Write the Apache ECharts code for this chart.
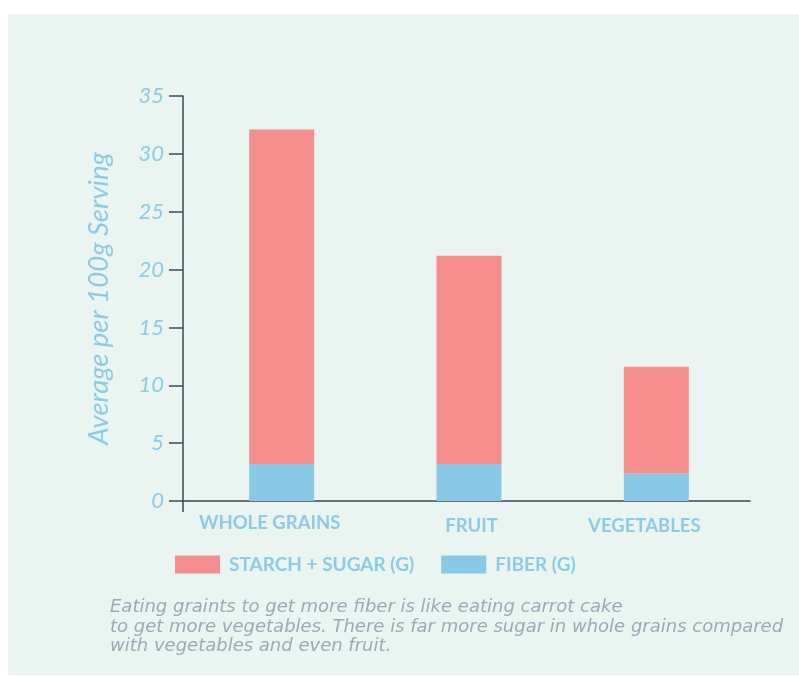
<!DOCTYPE html>
<html>
<head>
<meta charset="utf-8">
<script src="https://cdn.jsdelivr.net/npm/echarts@6/dist/echarts.min.js"></script>
<style>
  html, body { margin: 0; padding: 0; background: #ffffff; }
  #panel { position: absolute; left: 8px; top: 14px; width: 791px; height: 661px; background: #eaf4f0; }
  #chart { position: absolute; left: 0; top: 0; width: 799px; height: 677px; }
</style>
</head>
<body>
<div id="panel"></div>
<div id="chart"></div>
<script>
const categories = ['WHOLE GRAINS', 'FRUIT', 'VEGETABLES'];
const fiber = [3.2, 3.2, 2.4];
const starchSugar = [28.9, 18.0, 9.2];
const seriesNames = ['STARCH + SUGAR (G)', 'FIBER (G)'];
const yTicks = { min: 0, max: 35, interval: 5 };
const yAxisTitle = 'Average per 100g Serving';
const caption = 'Eating graints to get more fiber is like eating carrot cake\n' +
  'to get more vegetables. There is far more sugar in whole grains compared\n' +
  'with vegetables and even fruit.';

const blue = '#89c9e5';
const pink = '#f58e8e';
const labelBlue = '#8acbe8';
const axisColor = '#3d4756';

// label styling: small horizontal nudges of category labels (as in the reference layout)
const labelFont = { color: labelBlue, fontFamily: 'Lato', fontWeight: 'bold', fontSize: 18.5 };
const labelRich = {
  c0: Object.assign({ padding: [0, 24, 0, 0] }, labelFont),
  c1: Object.assign({ padding: [3, 0, 0, 5] }, labelFont),
  c2: Object.assign({ padding: [3, 24, 0, 0] }, labelFont)
};

const chart = echarts.init(document.getElementById('chart'), null, { renderer: 'canvas' });
const option = {
  backgroundColor: 'transparent',
  animation: false,
  grid: { left: 188, right: 49, top: 96, bottom: 176, containLabel: false },
  legend: {
    data: seriesNames,
    left: 175, top: 555, padding: 0,
    icon: 'rect', itemWidth: 45, itemHeight: 18, itemGap: 27,
    textStyle: { color: labelBlue, fontFamily: 'Lato', fontWeight: 'bold', fontSize: 19, padding: [0, 0, 0, 4] },
    selectedMode: false
  },
  title: {
    text: caption,
    left: 110, top: 598, padding: 0,
    textStyle: { color: '#9ea8b6', fontFamily: 'DejaVu Sans', fontStyle: 'italic', fontWeight: 'normal', fontSize: 18, lineHeight: 19.5 }
  },
  xAxis: {
    type: 'category',
    data: categories,
    axisLine: { show: true, lineStyle: { color: axisColor, width: 1.5 } },
    axisTick: { show: false },
    axisLabel: Object.assign({
      interval: 0, margin: 13,
      formatter: function (value, idx) { return '{c' + idx + '|' + value + '}'; },
      rich: labelRich
    }, labelFont)
  },
  yAxis: {
    type: 'value',
    offset: 5,
    min: yTicks.min, max: yTicks.max, interval: yTicks.interval,
    name: yAxisTitle,
    nameLocation: 'middle',
    nameGap: 70,
    nameTextStyle: { color: labelBlue, fontFamily: 'Lato', fontStyle: 'italic', fontSize: 27.5 },
    axisLine: { show: true, lineStyle: { color: axisColor, width: 1.5 } },
    axisTick: { show: true, length: 14, lineStyle: { color: axisColor, width: 1.5 } },
    splitLine: { show: false },
    axisLabel: { color: labelBlue, fontFamily: 'Lato', fontStyle: 'italic', fontSize: 22, margin: 19 }
  },
  series: [
    {
      name: seriesNames[1], type: 'bar', stack: 'total', data: fiber,
      barWidth: 65, itemStyle: { color: blue }
    },
    {
      name: seriesNames[0], type: 'bar', stack: 'total', data: starchSugar,
      barWidth: 65, itemStyle: { color: pink }
    }
  ]
};
chart.setOption(option);

// axis decorations: join y axis to x axis at zero and extend y axis a little below zero
const p0 = chart.convertToPixel({ gridIndex: 0 }, [0, 0]);
const gridRect = chart.getModel().getComponent('grid', 0).coordinateSystem.getRect();
const yAxisX = gridRect.x - option.yAxis.offset;
chart.setOption({
  graphic: [
    {
      type: 'line',
      shape: { x1: yAxisX, y1: p0[1], x2: gridRect.x, y2: p0[1] },
      style: { stroke: axisColor, lineWidth: 1.5 },
      silent: true
    },
    {
      type: 'line',
      shape: { x1: yAxisX, y1: p0[1], x2: yAxisX, y2: p0[1] + 11 },
      style: { stroke: axisColor, lineWidth: 1.5 },
      silent: true
    }
  ]
});
</script>
</body>
</html>
